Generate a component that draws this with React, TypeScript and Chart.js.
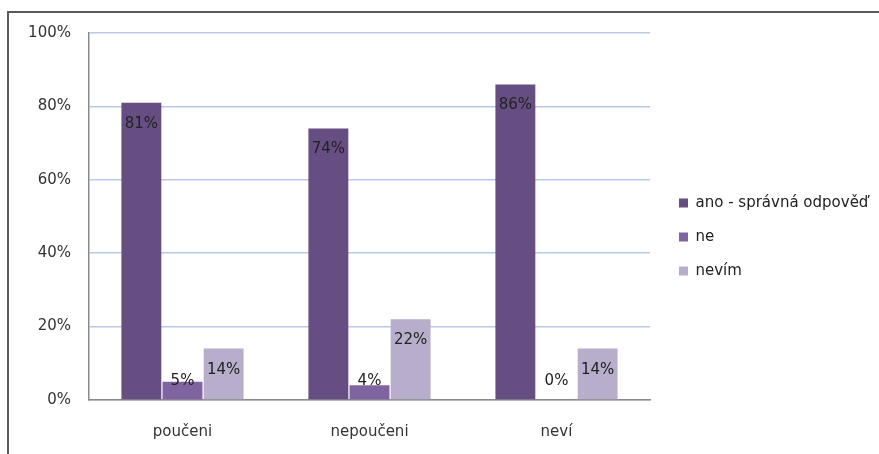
import React, { useEffect, useRef } from 'react';
import { Chart, registerables } from 'chart.js';

Chart.register(...registerables);

const categories = ['poučeni', 'nepoučeni', 'neví'];
const seriesNames = ['ano - správná odpověď', 'ne', 'nevím'];
const anoValues = [81, 74, 86];
const neValues = [5, 4, 0];
const nevimValues = [14, 22, 14];
const yTicks = [0, 20, 40, 60, 80, 100];

const FONT = 'DejaVu Sans';

const labelPlugin = {
  id: 'valueLabels',
  afterDatasetsDraw(chart: any) {
    const ctx = chart.ctx;
    ctx.save();
    ctx.font = `15px "${FONT}"`;
    ctx.fillStyle = '#222222';
    ctx.textAlign = 'center';
    ctx.textBaseline = 'middle';
    chart.data.datasets.forEach((ds: any, di: number) => {
      const meta = chart.getDatasetMeta(di);
      meta.data.forEach((bar: any, i: number) => {
        const v = ds.data[i];
        const y = Math.min(bar.y + 21, bar.base - 18.5);
        ctx.fillText(`${v}%`, bar.x, y);
      });
    });
    ctx.restore();
  },
};

const legendLayoutPlugin = {
  id: 'legendLayout',
  beforeInit(chart: any) {
    const legend = chart.legend;
    if (legend && !legend.__patched) {
      const orig = legend.fit.bind(legend);
      legend.fit = function () {
        orig();
        this.width = 229;
      };
      legend.__patched = true;
    }
  },
  afterLayout(chart: any) {
    const legend = chart.legend;
    if (!legend) return;
    const w = legend.right - legend.left;
    legend.left = 660;
    legend.right = 660 + w;
    legend.top = 20;
    legend.bottom = 454;
    legend.height = legend.bottom - legend.top;
  },
};

export default function App() {
  const ref = useRef<HTMLCanvasElement | null>(null);

  useEffect(() => {
    if (!ref.current) return;
    const chart = new Chart(ref.current, {
      type: 'bar',
      data: {
        labels: categories,
        datasets: [
          { label: seriesNames[0], data: anoValues, backgroundColor: '#664E83', borderWidth: 0 },
          { label: seriesNames[1], data: neValues, backgroundColor: '#8064A2', borderWidth: 0 },
          { label: seriesNames[2], data: nevimValues, backgroundColor: '#B8ADCB', borderWidth: 0 },
        ],
      },
      options: {
        responsive: false,
        animation: false,
        devicePixelRatio: 1,
        datasets: { bar: { categoryPercentage: 0.66, barPercentage: 0.97 } },
        layout: { padding: { left: 28, top: 33, right: 0, bottom: 0 } },
        plugins: {
          tooltip: { enabled: false },
          legend: {
            position: 'right',
            labels: {
              boxWidth: 9,
              boxHeight: 9,
              padding: 19,
              color: '#222222',
              font: { family: FONT, size: 15 },
            },
          },
        },
        scales: {
          x: {
            grid: { display: false, drawTicks: false },
            border: { display: true, color: '#8a8a8a', width: 1.5 },
            ticks: { color: '#333333', padding: 23, font: { family: FONT, size: 15 } },
            afterFit: (s: any) => { s.height = 54; },
          },
          y: {
            min: 0,
            max: 100,
            afterBuildTicks: (s: any) => { s.ticks = yTicks.map((v) => ({ value: v })); },
            grid: { color: '#b9c8e6', lineWidth: 1.5, drawTicks: false },
            border: { display: true, color: '#8a8a8a', width: 1.5 },
            ticks: {
              color: '#333333',
              padding: 18,
              font: { family: FONT, size: 15 },
              callback: (v: any) => `${v}%`,
            },
            afterFit: (s: any) => { s.width = 61; },
          },
        },
      },
      plugins: [labelPlugin, legendLayoutPlugin],
    });
    return () => chart.destroy();
  }, []);

  return (
    <div style={{ position: 'fixed', left: 0, top: 0, width: 879, height: 454, overflow: 'hidden', background: '#ffffff' }}>
      <canvas ref={ref} width={879} height={454} style={{ position: 'absolute', left: 0, top: 0 }} />
      <div
        style={{
          position: 'absolute',
          left: 7,
          top: 11,
          width: 900,
          height: 500,
          borderTop: '2px solid #595959',
          borderLeft: '2px solid #595959',
          pointerEvents: 'none',
        }}
      />
    </div>
  );
}
